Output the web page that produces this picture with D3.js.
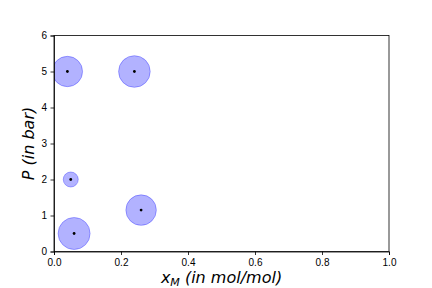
<!DOCTYPE html>
<html>
<head>
<meta charset="utf-8">
<script src="https://cdn.jsdelivr.net/npm/d3@7"></script>
<style>
  body { margin: 0; background: #fff; }
  svg { display: block; font-family: "DejaVu Sans", sans-serif; }
  .tick text { font-size: 10px; fill: #000; }
  .tick line, .domain { stroke: #000; stroke-width: 0.8; }
</style>
</head>
<body>
<svg id="chart" width="432" height="288"></svg>
<script>
// values
const xM = [0.04, 0.24, 0.05, 0.06, 0.26];
const pressure = [5.0, 5.0, 2.0, 0.5, 1.15];
const bubbleSize = [920, 1000, 225, 1024, 930];  // marker area (pt^2)

const xTicks = [0, 0.2, 0.4, 0.6, 0.8, 1.0];
const yTicks = [0, 1, 2, 3, 4, 5, 6];

const width = 432;
const height = 288;
const margin = { left: 54, right: 43, top: 35.5, bottom: 36.5 };

const svg = d3.select("#chart");

const x = d3.scaleLinear().domain([0, 1]).range([margin.left, width - margin.right]);
const y = d3.scaleLinear().domain([0, 6]).range([height - margin.bottom, margin.top]);
// area -> radius, like matplotlib's s (points^2) at 72 dpi
const r = d3.scaleSqrt().domain([0, 1024]).range([0, 16]);

svg.append("defs").append("clipPath").attr("id", "plot-clip")
  .append("rect")
  .attr("x", margin.left).attr("y", margin.top)
  .attr("width", width - margin.left - margin.right)
  .attr("height", height - margin.top - margin.bottom);

const data = xM.map(function(d, i) {
  return { x: d, p: pressure[i], s: bubbleSize[i] };
});

// bubbles
const plot = svg.append("g").attr("clip-path", "url(#plot-clip)");

plot.selectAll("circle.bubble")
  .data(data)
  .enter()
  .append("circle")
  .attr("class", "bubble")
  .attr("cx", function(d) { return x(d.x); })
  .attr("cy", function(d) { return y(d.p); })
  .attr("r", function(d) { return r(d.s); })
  .attr("fill", "rgba(0,0,255,0.3)")
  .attr("stroke", "rgba(0,0,255,0.3)")
  .attr("stroke-width", 1);

plot.selectAll("circle.dot")
  .data(data)
  .enter()
  .append("circle")
  .attr("class", "dot")
  .attr("cx", function(d) { return x(d.x); })
  .attr("cy", function(d) { return y(d.p); })
  .attr("r", 1.4)
  .attr("fill", "#000");

// axes
svg.append("g")
  .attr("transform", "translate(0," + (height - margin.bottom) + ")")
  .call(d3.axisBottom(x).tickValues(xTicks).tickFormat(d3.format(".1f")).tickSize(3.5).tickPadding(3.5));

svg.append("g")
  .attr("transform", "translate(" + margin.left + ",0)")
  .call(d3.axisLeft(y).tickValues(yTicks).tickFormat(d3.format("d")).tickSize(3.5).tickPadding(3.5));

// frame
svg.append("rect")
  .attr("x", margin.left).attr("y", margin.top)
  .attr("width", width - margin.left - margin.right)
  .attr("height", height - margin.top - margin.bottom)
  .attr("fill", "none")
  .attr("stroke", "#000")
  .attr("stroke-width", 0.8);

// labels
const xLabel = svg.append("text")
  .attr("x", (margin.left + width - margin.right) / 2)
  .attr("y", 283)
  .attr("text-anchor", "middle")
  .attr("font-size", 16)
  .attr("font-style", "italic");
xLabel.append("tspan").text("x");
xLabel.append("tspan").attr("font-size", 11).attr("dy", 3).text("M");
xLabel.append("tspan").attr("dy", -3).text(" (in mol/mol)");

svg.append("text")
  .attr("transform", "translate(34," + (margin.top + height - margin.bottom) / 2 + ") rotate(-90)")
  .attr("text-anchor", "middle")
  .attr("font-size", 16)
  .attr("font-style", "italic")
  .text("P (in bar)");
</script>
</body>
</html>
